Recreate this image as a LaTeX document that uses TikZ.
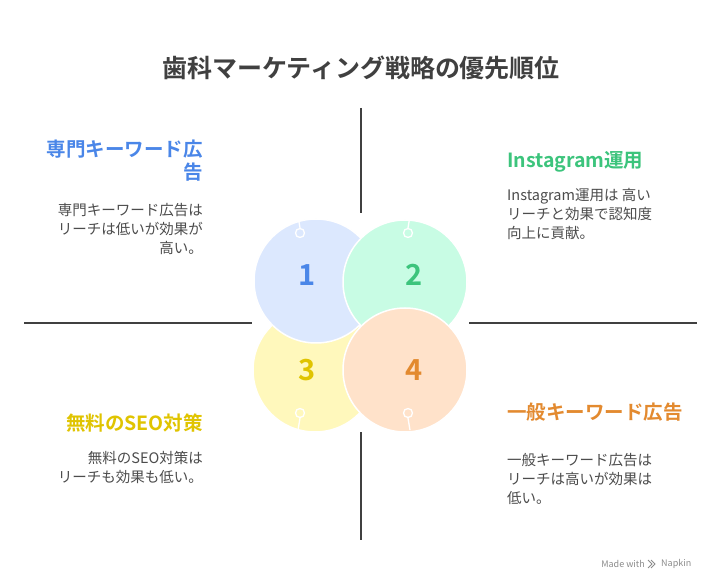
\documentclass[tikz,border=0pt]{standalone}
\usepackage{fontspec}
\setmainfont{Noto Sans CJK JP}
\newfontfamily\bfcjk{Noto Sans CJK JP Bold}
\begin{document}
\begin{tikzpicture}[x=1pt,y=-1pt,
  bub/.style={circle,minimum size=124pt,inner sep=0pt,draw=white,line width=1.5pt},
  num/.style={font=\bfcjk\fontsize{29}{29}\selectfont},
  ttl/.style={font=\bfcjk\fontsize{19.5}{23}\selectfont,align=#1},
  body/.style={font=\fontsize{14.5}{19}\selectfont,text=black!70,align=#1},
  axis/.style={draw=black!75,line width=1.3pt},
  pin/.style={draw=white,line width=1.3pt}]
\definecolor{c1}{HTML}{DCE8FE}\definecolor{c2}{HTML}{C8FCE4}
\definecolor{c3}{HTML}{FFF8BC}\definecolor{c4}{HTML}{FFE2CA}
\definecolor{t1}{HTML}{4A86E8}\definecolor{t2}{HTML}{3CC47C}
\definecolor{t3}{HTML}{E0C400}\definecolor{t4}{HTML}{E38A2F}
\useasboundingbox (0,0) rectangle (721,588);
\fill[white] (0,0) rectangle (721,588);
\node[font=\bfcjk\fontsize{25}{28}\selectfont,text=black!75] (title) at (361,68) {歯科マーケティング戦略の優先順位};
\coordinate (v1) at (361,108);\coordinate (v2) at (361,213);
\coordinate (v3) at (361,432);\coordinate (v4) at (361,540);
\coordinate (h1) at (24,323);\coordinate (h2) at (252,323);
\coordinate (h3) at (469,323);\coordinate (h4) at (697,323);
\draw[axis] (v1)--(v2); \draw[axis] (v3)--(v4);
\draw[axis] (h1)--(h2); \draw[axis] (h3)--(h4);
\node[bub,fill=c3] (b3) at (315,370) {};
\node[bub,fill=c1] (b1) at (316,281) {};
\node[bub,fill=c2] (b2) at (405,282) {};
\node[bub,fill=c4] (b4) at (405,370) {};
\node[num,text=t1] at (307,275) {1};
\node[num,text=t2] at (414,275) {2};
\node[num,text=t3] at (307,370) {3};
\node[num,text=t4] at (414,370) {4};
\node[pin,circle,minimum size=9pt,inner sep=0pt] (p1) at (300,233) {};
\draw[pin] (p1.north) -- ++(-2,-12);
\node[pin,circle,minimum size=9pt,inner sep=0pt] (p2) at (408,233) {};
\draw[pin] (p2.north) -- ++(2,-12);
\node[pin,circle,minimum size=9pt,inner sep=0pt] (p3) at (300,413) {};
\draw[pin] (p3.south) -- ++(-2,12);
\node[pin,circle,minimum size=9pt,inner sep=0pt] (p4) at (408,413) {};
\draw[pin] (p4.south) -- ++(2,12);
\node[ttl=right,text=t1,anchor=north east,inner sep=0pt] (l1) at (203,140) {専門キーワード広\\告};
\node[body=right,anchor=north east,inner sep=0pt] (d1) at (203,203) {専門キーワード広告は\\リーチは低いが効果が\\高い。};
\node[ttl=left,text=t2,anchor=north west,inner sep=0pt] (l2) at (507,151) {Instagram運用};
\node[body=left,anchor=north west,inner sep=0pt] (d2) at (507,188) {Instagram運用は 高い\\リーチと効果で認知度\\向上に貢献。};
\node[ttl=right,text=t3,anchor=north east,inner sep=0pt] (l3) at (203,414) {無料のSEO対策};
\node[body=right,anchor=north east,inner sep=0pt] (d3) at (203,451) {無料のSEO対策は\\リーチも効果も低い。};
\node[ttl=left,text=t4,anchor=north west,inner sep=0pt] (l4) at (507,403) {一般キーワード広告};
\node[body=left,anchor=north west,inner sep=0pt] (d4) at (507,453) {一般キーワード広告は\\リーチは高いが効果は\\低い。};
\node[font=\fontsize{9}{10}\selectfont,text=black!45,anchor=west,inner sep=0pt] (mw) at (661,564) {Napkin};
\node[font=\fontsize{9}{10}\selectfont,text=black!45,anchor=east,inner sep=0pt] (mw2) at (645,564) {Made with};
\draw[black!45,line width=1pt] (648,560)--(652,564)--(648,568) (651,560)--(655,564)--(651,568);
\end{tikzpicture}
\end{document}
